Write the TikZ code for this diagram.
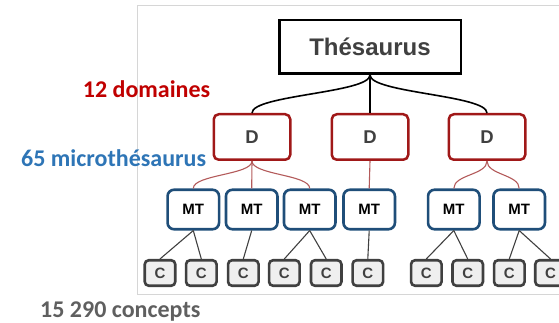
\documentclass[tikz,border=0pt]{standalone}
\usepackage{fontspec}
\setmainfont{Liberation Sans}
\newfontfamily\labelfont{Carlito}
\definecolor{framegray}{HTML}{D6D6D6}
\definecolor{domred}{HTML}{A01818}
\definecolor{linkred}{HTML}{B35A5A}
\definecolor{mtblue}{HTML}{1F4E79}
\definecolor{cgray}{HTML}{404040}
\definecolor{cfill}{HTML}{EFEFEF}
\definecolor{txtgray}{HTML}{404040}
\definecolor{lblred}{HTML}{C00000}
\definecolor{lblblue}{HTML}{2E75B6}
\definecolor{lblgray}{HTML}{5F5F5F}
\tikzset{
  rootbox/.style={draw=black, line width=2.5pt, minimum width=181.5pt, minimum height=53.5pt,
    inner sep=0pt, font=\fontsize{24}{24}\selectfont\bfseries, text=txtgray},
  dombox/.style={draw=domred, line width=2.5pt, rounded corners=5pt, minimum width=76.5pt,
    minimum height=45.5pt, inner sep=0pt, font=\fontsize{18.5}{18.5}\selectfont\bfseries, text=txtgray},
  mtbox/.style={draw=mtblue, line width=2.6pt, rounded corners=6.5pt, minimum width=51.5pt,
    minimum height=39.5pt, inner sep=0pt, font=\fontsize{15}{15}\selectfont\bfseries, text=black},
  cbox/.style={draw=cgray, fill=cfill, line width=2.6pt, rounded corners=4pt, minimum width=30.5pt,
    minimum height=25.5pt, inner sep=0pt, font=\fontsize{15}{15}\selectfont\bfseries, text=txtgray},
  rootlink/.style={black, line width=1.6pt},
  domlink/.style={linkred, line width=1.1pt},
  mtlink/.style={cgray, line width=1.1pt},
  sidelabel/.style={anchor=base west, inner sep=0pt, font=\labelfont\fontsize{24}{24}\selectfont\bfseries},
}
\begin{document}
\begin{tikzpicture}[x=1pt, y=-1pt]
\useasboundingbox (0,0) rectangle (559,323);
\begin{scope}
\clip (0,0) rectangle (559,323);
% frame around the tree
\draw[framegray, line width=1pt] (137,6) rectangle (620,294);

% root
\node[rootbox] (T) at (370,47) {Thésaurus};

% domains
\node[dombox] (D1) at (252,137) {D};
\node[dombox] (D2) at (370,137) {D};
\node[dombox] (D3) at (487,137) {D};

% micro-thesauri
\node[mtbox] (M1) at (193.3,209.5) {MT};
\node[mtbox] (M2) at (251.7,209.5) {MT};
\node[mtbox] (M3) at (309.7,209.5) {MT};
\node[mtbox] (M4) at (369.2,209.5) {MT};
\node[mtbox] (M5) at (453.8,209.5) {MT};
\node[mtbox] (M6) at (519.2,209.5) {MT};

% concepts
\foreach \i/\x in {1/160,2/201.3,3/243.3,4/284.3,5/326.2,6/367.8,7/426.3,8/467.7,9/509.3,10/550.5}
  \node[cbox] (C\i) at (\x,273) {C};

% root to domains
\foreach \d in {D1,D2,D3}
  \draw[rootlink] (T.south) .. controls +(0,18) and +(0,-18) .. (\d.north);

% domains to micro-thesauri
\foreach \p/\c in {D1/M1,D1/M2,D1/M3,D3/M5,D3/M6}
  \draw[domlink] (\p.south) .. controls +(0,14) and +(0,-14) .. (\c.north);
\draw[domlink] (D2.south) -- (M4.north);

% micro-thesauri to concepts
\foreach \p/\c in {M1/C1,M1/C2,M2/C3,M3/C4,M3/C5,M4/C6,M5/C7,M5/C8,M6/C9,M6/C10}
  \draw[mtlink] (\p.south) -- (\c.north);
\end{scope}

% level labels
\node[sidelabel, text=lblred] (L1) at (82.7,98) {12 domaines};
\node[sidelabel, text=lblblue] (L2) at (21,166.7) {65 microthésaurus};
\node[sidelabel, text=lblgray] (L3) at (40,317) {15 290 concepts};
\end{tikzpicture}
\end{document}
